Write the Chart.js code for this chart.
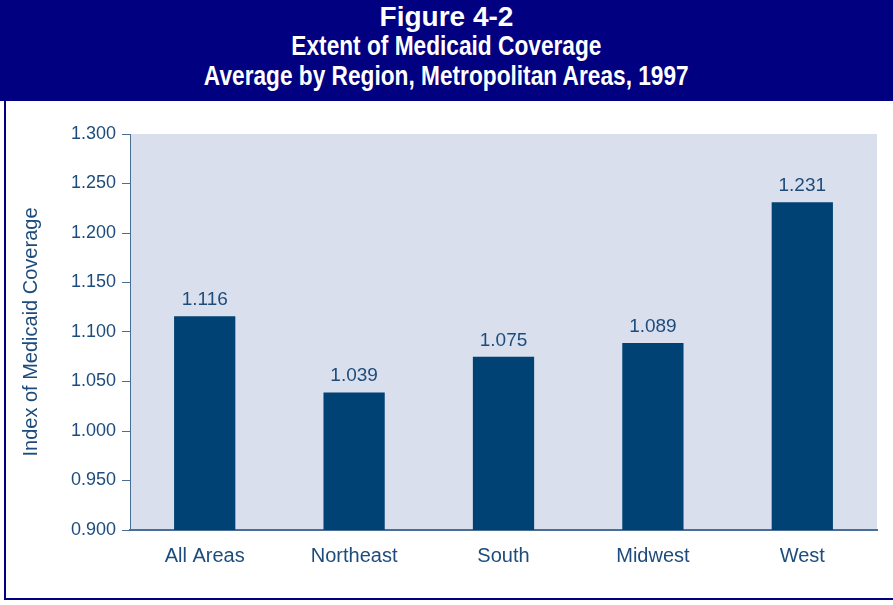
<!DOCTYPE html>
<html>
<head>
<meta charset="utf-8">
<script src="https://cdn.jsdelivr.net/npm/chart.js@4/dist/chart.umd.min.js"></script>
<style>
  body { margin: 0; background: #fff; }
  #page { position: relative; width: 893px; height: 605px; overflow: hidden; }
  #header {
    position: absolute; left: 0; top: 0; width: 893px; height: 101px;
    background: #000080; color: #fff; text-align: center;
  }
  #header div { position: absolute; left: 0; right: 0; white-space: nowrap; }
  #header span { display: inline-block; transform: scaleX(0.81); transform-origin: center; }
  #fig { top: 1px; font: bold 28px "Liberation Sans", Arial, sans-serif; line-height: 32px; }
  #sub1, #sub2 { font: bold 28px "Liberation Sans", Arial, sans-serif; line-height: 30px; }
  #sub1 { top: 31px; }
  #sub2 { top: 61px; }
  #lborder { position: absolute; left: 4px; top: 100px; width: 2px; height: 500px; background: #000080; }
  #bborder { position: absolute; left: 4px; top: 598px; width: 889px; height: 2px; background: #000080; }
  #wrap { position: absolute; left: 6px; top: 101px; width: 887px; height: 497px; }
</style>
</head>
<body>
<div id="page">
  <div id="header">
    <div id="fig">Figure 4-2</div>
    <div id="sub1"><span>Extent of Medicaid Coverage</span></div>
    <div id="sub2"><span>Average by Region, Metropolitan Areas, 1997</span></div>
  </div>
  <div id="lborder"></div>
  <div id="bborder"></div>
  <div id="wrap"><canvas id="myChart" width="887" height="497"></canvas></div>
</div>
<script>
// Data
const regions = ['All Areas', 'Northeast', 'South', 'Midwest', 'West'];
const coverageIndex = [1.116, 1.039, 1.075, 1.089, 1.231];
const yMin = 0.9;
const yMax = 1.3;
const yStep = 0.05;

// Colours
const COLORS = {
    BAR: '#004274',
    PLOT_BG: '#d9dfec',
    TEXT: '#1d4c7c',
    AXIS: '#4a6f97'
};
const FONT = '"Liberation Sans", Arial, sans-serif';

// paint the light panel behind the bars
const plotBackground = {
    id: 'plotBackground',
    beforeDraw(chart) {
        const { ctx, chartArea: { left, top, width, height } } = chart;
        ctx.save();
        ctx.fillStyle = COLORS.PLOT_BG;
        ctx.fillRect(left, top, width, height);
        ctx.restore();
    }
};

// value above each bar
const valueLabels = {
    id: 'valueLabels',
    afterDatasetsDraw(chart) {
        const { ctx } = chart;
        const meta = chart.getDatasetMeta(0);
        ctx.save();
        ctx.fillStyle = COLORS.TEXT;
        ctx.font = '19px ' + FONT;
        ctx.textAlign = 'center';
        ctx.textBaseline = 'alphabetic';
        meta.data.forEach((bar, i) => {
            ctx.fillText(coverageIndex[i].toFixed(3), bar.x, bar.y - 11);
        });
        ctx.restore();
    }
};

new Chart(document.getElementById('myChart'), {
    type: 'bar',
    data: {
        labels: regions,
        datasets: [{
            data: coverageIndex,
            backgroundColor: COLORS.BAR,
            borderWidth: 0,
            categoryPercentage: 1,
            barPercentage: 0.41
        }]
    },
    options: {
        responsive: false,
        animation: false,
        layout: { padding: { top: 33, right: 16, left: 0, bottom: 0 } },
        plugins: {
            legend: { display: false },
            tooltip: { enabled: false }
        },
        scales: {
            x: {
                grid: { display: false },
                border: { display: true, color: COLORS.AXIS, width: 2 },
                ticks: {
                    color: COLORS.TEXT,
                    font: { family: FONT, size: 20 },
                    padding: 6
                },
                afterFit(scale) { scale.height = 68; }
            },
            y: {
                min: yMin,
                max: yMax,
                grid: {
                    drawOnChartArea: false,
                    drawTicks: true,
                    tickLength: 8,
                    tickColor: COLORS.AXIS
                },
                border: { display: true, color: COLORS.AXIS, width: 1 },
                ticks: {
                    stepSize: yStep,
                    color: COLORS.TEXT,
                    font: { family: FONT, size: 18 },
                    padding: 6,
                    callback: (v) => v.toFixed(3)
                },
                title: {
                    display: true,
                    text: 'Index of Medicaid Coverage',
                    color: COLORS.TEXT,
                    font: { family: FONT, size: 20, weight: 'normal' },
                    padding: { top: 13, bottom: 0 }
                },
                afterFit(scale) { scale.width = 124; }
            }
        }
    },
    plugins: [plotBackground, valueLabels]
});
</script>
</body>
</html>
